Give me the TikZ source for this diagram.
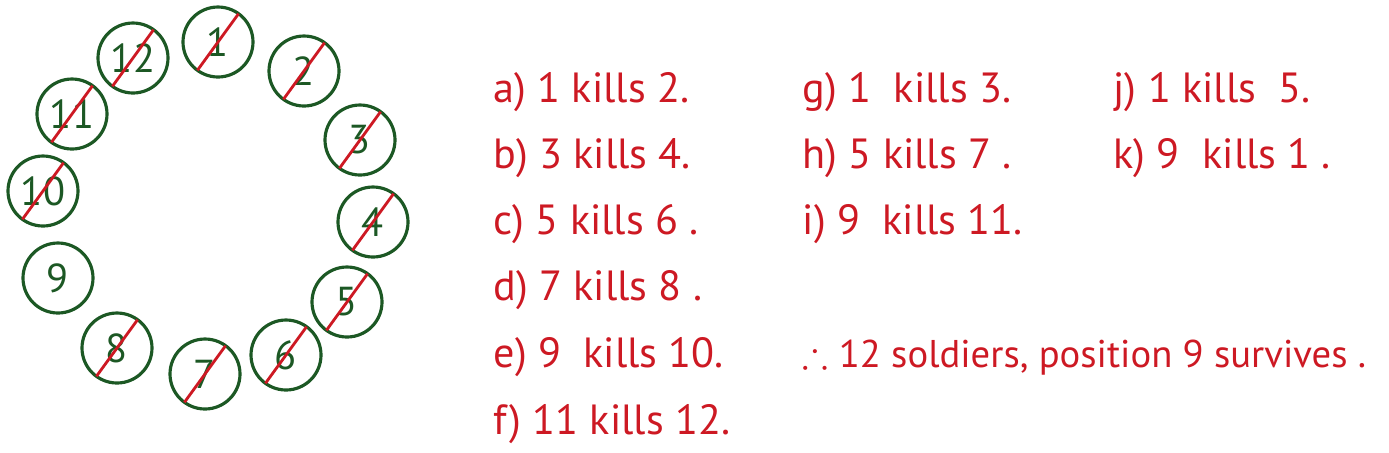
\documentclass[tikz,border=0pt]{standalone}
\usepackage{amsmath, amssymb}
\usepackage{fontspec}
\setmainfont{PT Sans}
\usepackage{tikz}
\definecolor{ringGreen}{RGB}{28, 88, 36}
\definecolor{inkRed}{RGB}{205, 25, 35}

\begin{document}
\begin{tikzpicture}[
    soldier/.style={circle, draw=ringGreen, line width=0.9pt, minimum size=0.70cm,
      inner sep=0pt, outer sep=0pt, text=ringGreen, font=\fontsize{11.5}{13}\selectfont},
    slash/.style={draw=inkRed, line width=0.8pt},
    note/.style={anchor=base west, inner sep=0pt, text=inkRed, font=\fontsize{12}{14}\selectfont}
  ]
  \useasboundingbox (0,0) rectangle (13.89,4.52);
  % Soldiers in the ring
  \foreach \n/\p in {1/{(2.18,4.10)}, 2/{(3.04,3.81)}, 3/{(3.60,3.12)}, 4/{(3.73,2.30)},
                     5/{(3.47,1.50)}, 6/{(2.86,0.97)}, 7/{(2.05,0.78)}, 8/{(1.17,1.04)},
                     9/{(0.58,1.74)}, 10/{(0.43,2.61)}, 11/{(0.72,3.38)}, 12/{(1.33,3.94)}}
    \node[soldier] (s\n) at \p {\n};
  % Crossed out (all but 9)
  \foreach \n in {1,...,8,10,11,12}
    \draw[slash] (s\n.234) -- (s\n.54);
  % Rounds
  \node[note] (ka) at (4.93,3.50) {a)\ 1 kills 2.};
  \node[note] (kb) at (4.93,2.84) {b)\ 3 kills 4.};
  \node[note] (kc) at (4.93,2.18) {c)\ 5 kills 6 .};
  \node[note] (kd) at (4.93,1.52) {d)\ 7 kills 8 .};
  \node[note] (ke) at (4.93,0.85) {e)\ 9 \ kills 10.};
  \node[note] (kf) at (4.93,0.18) {f)\ 11 kills 12.};
  \node[note] (kg) at (8.02,3.50) {g)\ 1 \ kills 3.};
  \node[note] (kh) at (8.02,2.84) {h)\ 5 kills 7 .};
  \node[note] (ki) at (8.02,2.18) {i)\ 9 \ kills 11.};
  \node[note] (kj) at (11.13,3.50) {j)\ 1 kills \ 5.};
  \node[note] (kk) at (11.13,2.84) {k)\ 9 \ kills 1 .};
  \node[note, font=\fontsize{11}{13}\selectfont] (res) at (8.02,0.85)
    {$\therefore$ 12 soldiers, position 9 survives .};
\end{tikzpicture}
\end{document}
